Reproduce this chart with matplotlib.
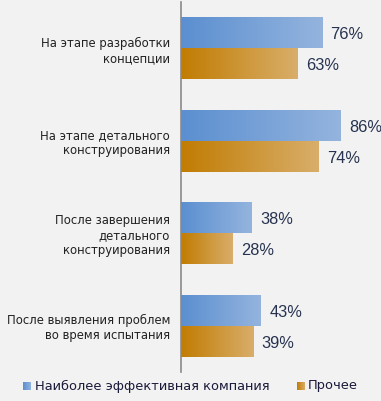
import numpy as np
import matplotlib
matplotlib.use('Agg')
import matplotlib.pyplot as plt

categories = ['На этапе разработки\nконцепции',
              'На этапе детального\nконструирования',
              'После завершения\nдетального\nконструирования',
              'После выявления проблем\nво время испытания']
best = [76, 86, 38, 43]
other = [63, 74, 28, 39]
series_names = ['Наиболее эффективная компания', 'Прочее']

BG = '#f2f2f2'
BLUE = ('#5b8fd0', '#94b4de')
ORANGE = ('#c17c02', '#d9ae6a')
TEXT = '#26324f'


def gradient_cmap(c0, c1):
    return matplotlib.colors.LinearSegmentedColormap.from_list('g', [c0, c1])


grad = np.linspace(0, 1, 256).reshape(1, -1)

fig = plt.figure(figsize=(3.81, 4.01), dpi=100, facecolor=BG)
ax = fig.add_axes([181 / 381, 29 / 401, 200 / 381, 370 / 401])
ax.set_facecolor(BG)

y = np.arange(len(categories))
h = 0.335
bars_best = ax.barh(y - h / 2, best, height=h, color='none')
bars_other = ax.barh(y + h / 2, other, height=h, color='none')

for bars, cols, vals in [(bars_best, BLUE, best), (bars_other, ORANGE, other)]:
    cmap = gradient_cmap(*cols)
    for bar, v in zip(bars, vals):
        x0, y0 = bar.get_x(), bar.get_y()
        w, hh = bar.get_width(), bar.get_height()
        ax.imshow(grad, cmap=cmap, aspect='auto',
                  extent=[x0, x0 + w, y0 + hh, y0], zorder=2)
        ax.text(v + 4.5, y0 + hh / 2 + 0.02, f'{v}%', va='center', ha='left',
                fontsize=11.8, color=TEXT, family='Liberation Sans')

ax.set_xlim(0, 107.8)
ax.set_ylim(len(categories) - 0.5, -0.5)
ax.set_xticks([])
ax.set_yticks(y)
ax.set_yticklabels(categories, fontsize=8.4, color='#222222',
                   linespacing=1.2)
ax.tick_params(axis='y', length=0, pad=8)
for s in ['top', 'right', 'bottom']:
    ax.spines[s].set_visible(False)
ax.spines['left'].set_color('#8a8a8a')
ax.spines['left'].set_linewidth(1.2)
for t in ax.get_yticklabels():
    t.set_multialignment('right')

# legend
for (lx, cols), (tx, name) in zip([(23, BLUE), (297, ORANGE)],
                                  [(35, series_names[0]), (308, series_names[1])]):
    lax = fig.add_axes([lx / 381, (401 - 390) / 401, 8 / 381, 8 / 401])
    lax.imshow(grad, cmap=gradient_cmap(*cols), aspect='auto')
    lax.axis('off')
    fig.text(tx / 381, (401 - 386) / 401, name, fontsize=9.4,
             color='#1a1a3a', va='center', ha='left')

fig.savefig('out.png', dpi=100, facecolor=BG)
